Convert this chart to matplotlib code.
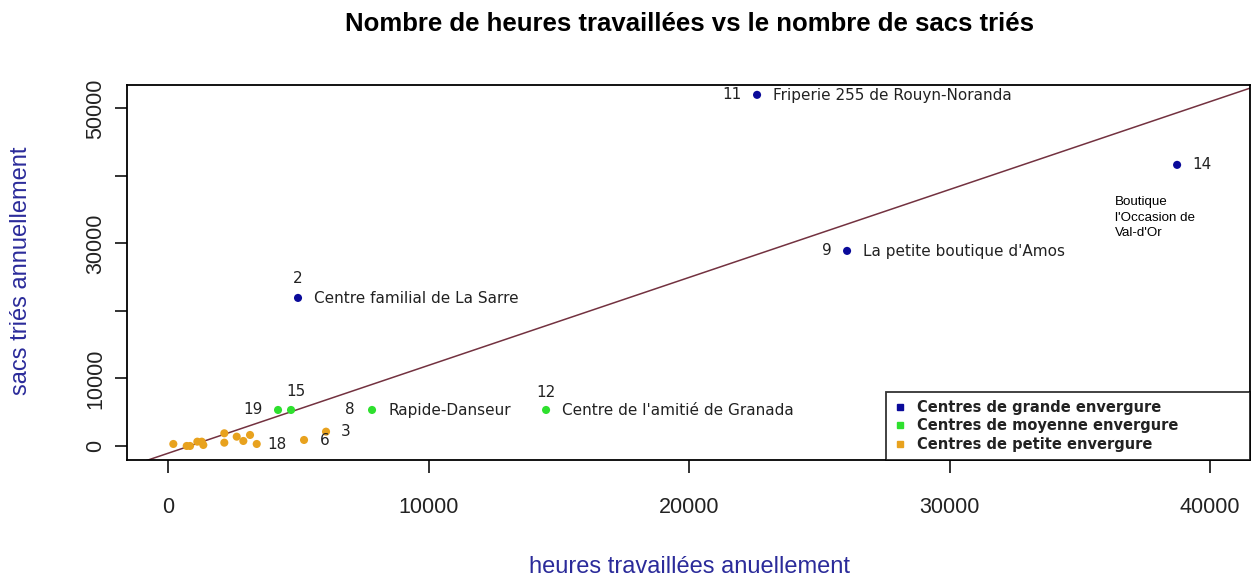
import matplotlib
matplotlib.use('Agg')
import matplotlib.pyplot as plt
from matplotlib.lines import Line2D

# heures travaillées / sacs triés par centre
heures = [22610, 38733, 26065, 4990,
          4722, 4223, 7831, 14511,
          204, 718, 845, 1125, 1294, 1355, 2161, 2161, 2637, 2891, 3148, 3405, 5221, 6065]
sacs = [52000, 41630, 28890, 21926,
        5333, 5333, 5333, 5333,
        296, 0, 0, 637, 637, 148, 1880, 489, 1378, 741, 1630, 296, 889, 2118]
groupe = ['grande'] * 4 + ['moyenne'] * 4 + ['petite'] * 14
numero = ['11', '14', '9', '2',
          '15', '19', '8', '12',
          '', '', '', '', '', '', '', '', '', '', '', '18', '6', '3']
nom = ['Friperie 255 de Rouyn-Noranda', '', "La petite boutique d'Amos", 'Centre familial de La Sarre',
       '', '', 'Rapide-Danseur', "Centre de l'amitié de Granada",
       '', '', '', '', '', '', '', '', '', '', '', '', '', '']

# droite de tendance
pente = 1.302
ordonnee = -1081

couleurs = {'grande': '#0a0a9a', 'moyenne': '#2ee02e', 'petite': '#e8a21e'}
legende = ['Centres de grande envergure', 'Centres de moyenne envergure', 'Centres de petite envergure']

plt.rcParams['font.family'] = ['Liberation Sans', 'DejaVu Sans']

fig = plt.figure(figsize=(12.51, 5.78), dpi=100)
ax = fig.add_axes([0.1013, 0.2042, 0.898, 0.649])

xlim = (-1585, 41536)
ylim = (-2074, 53481)
ax.set_xlim(*xlim)
ax.set_ylim(*ylim)

ax.plot(xlim, [ordonnee + pente * v for v in xlim], color='#733240', lw=1.1, zorder=1)

ax.scatter(heures, sacs, c=[couleurs[g] for g in groupe], s=34, zorder=3, linewidths=0)

# position des étiquettes (pixels)
off_num = {'11': (-15, 0, 'right'), '14': (15, 0, 'left'), '9': (-15, 0, 'right'),
           '2': (0, 19, 'center'), '15': (5, 18, 'center'), '19': (-15, 0, 'right'),
           '8': (-17, 0, 'right'), '12': (0, 17, 'center'), '18': (11, -1, 'left'),
           '6': (16, -1, 'left'), '3': (15, 0, 'left')}
for x, y, n, t in zip(heures, sacs, numero, nom):
    if n:
        dx, dy, ha = off_num[n]
        ax.annotate(n, (x, y), xytext=(dx * 0.72, dy * 0.72), textcoords='offset points',
                    ha=ha, va='center', fontsize=11, color='#222222', family='DejaVu Sans')
    if t:
        ax.annotate(t, (x, y), xytext=(16 * 0.72, -1 * 0.72), textcoords='offset points',
                    ha='left', va='center', fontsize=11, color='#222222', family='DejaVu Sans')

# étiquette du centre 14
ax.annotate("Boutique\nl'Occasion de\nVal-d'Or", (heures[1], sacs[1]), xytext=(-62 * 0.72, -31 * 0.72),
            textcoords='offset points', ha='left', va='top', fontsize=9.6, linespacing=1.42)

ax.set_xticks([0, 10000, 20000, 30000, 40000])
ax.set_xticklabels(['0', '10000', '20000', '30000', '40000'])
ax.set_yticks([0, 10000, 20000, 30000, 40000, 50000])
ax.set_yticklabels(['0', '10000', '', '30000', '', '50000'], rotation=90, va='center')
ax.tick_params(axis='both', labelsize=15.5, length=9, width=1.3, colors='#222222', pad=6)
ax.tick_params(axis='x', pad=18)
for s in ax.spines.values():
    s.set_linewidth(1.3)

handles = [Line2D([], [], marker='s', ls='', color=couleurs[g], markersize=5)
           for g in ['grande', 'moyenne', 'petite']]
leg = ax.legend(handles, legende, loc='lower left', bbox_to_anchor=(0.676, 0, 0.324, 0.2), mode='expand',
                frameon=True, fancybox=False, edgecolor='black', borderpad=0.55, handletextpad=0.75,
                labelspacing=0.25, handlelength=0.8, borderaxespad=0,
                prop={'family': 'DejaVu Sans', 'weight': 'bold', 'size': 10.5})
leg.get_frame().set_linewidth(1.3)
for txt in leg.get_texts():
    txt.set_color('#222222')

fig.text(0.5515, 0.958, 'Nombre de heures travaillées vs le nombre de sacs triés',
         ha='center', va='center', fontsize=18.5, fontweight='bold')
fig.text(0.5515, 0.019, 'heures travaillées anuellement', ha='center', va='center',
         fontsize=17, color='#2b2b9a')
fig.text(0.017, 0.532, 'sacs triés annuellement', ha='center', va='center', rotation=90,
         fontsize=17, color='#2b2b9a')

fig.savefig('out.png', dpi=100)
